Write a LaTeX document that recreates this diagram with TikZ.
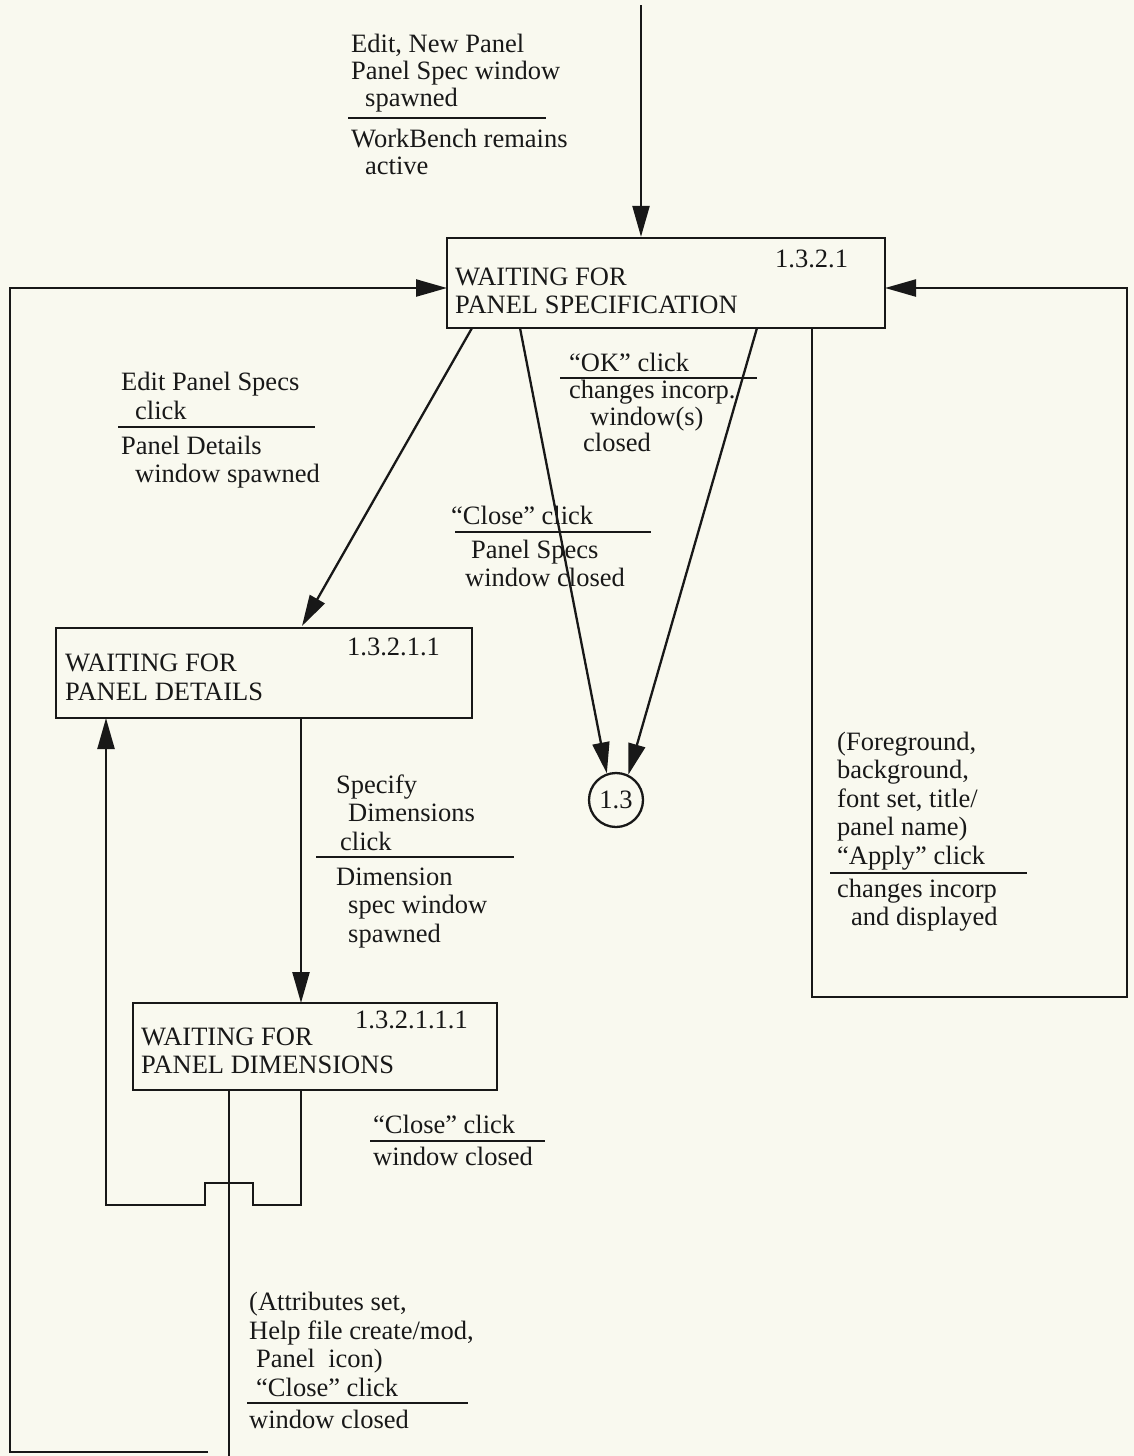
\documentclass[tikz,border=0pt]{standalone}
\usepackage{fontspec}
\setmainfont{Liberation Serif}
\usetikzlibrary{arrows.meta}
\definecolor{paper}{RGB}{249,249,239}
\definecolor{ink}{RGB}{24,24,24}
\begin{document}
\begin{tikzpicture}[x=1pt,y=-1pt,
  stbox/.style={draw=ink, line width=2.3pt, rectangle, inner sep=0pt},
  circ/.style={draw=ink, line width=2.3pt, circle, inner sep=0pt, minimum size=54pt, text=ink, font=\fontsize{26.5}{28}\selectfont},
  conn/.style={draw=ink, line width=2.3pt},
  arr/.style={conn, -{Triangle[length=31pt,width=17pt]}},
  txt/.style={inner sep=0pt, align=left, text=ink, font=\fontsize{26.5}{28.5}\selectfont},
  boxtxt/.style={inner sep=0pt, align=left, text=ink, font=\fontsize{26.5}{28}\selectfont},
  tight/.style={inner sep=0pt, align=left, text=ink, font=\fontsize{26.5}{24}\selectfont},
  toptxt/.style={inner sep=0pt, align=left, text=ink, font=\fontsize{26.5}{27}\selectfont}
]
\useasboundingbox (0,0) rectangle (1134,1456);
\fill[paper] (0,0) rectangle (1134,1456);

% ---------- states ----------
\node[stbox, minimum width=438pt, minimum height=90pt] (S1) at (666,283) {};
\node[boxtxt, anchor=base west] (S1a) at (455,285) {WAITING FOR};
\node[boxtxt, anchor=base west] (S1b) at (455,313) {PANEL SPECIFICATION};
\node[boxtxt, anchor=base west] (S1n) at (775,267) {1.3.2.1};

\node[stbox, minimum width=416pt, minimum height=90pt] (S2) at (264,673) {};
\node[boxtxt, anchor=base west] (S2a) at (65,671) {WAITING FOR};
\node[boxtxt, anchor=base west] (S2b) at (65,700) {PANEL DETAILS};
\node[boxtxt, anchor=base west] (S2n) at (347,655) {1.3.2.1.1};

\node[stbox, minimum width=364pt, minimum height=87pt] (S3) at (315,1046.5) {};
\node[boxtxt, anchor=base west] (S3a) at (141,1045) {WAITING FOR};
\node[boxtxt, anchor=base west] (S3b) at (141,1073) {PANEL DIMENSIONS};
\node[boxtxt, anchor=base west] (S3n) at (355,1028) {1.3.2.1.1.1};

\node[circ] (C) at (616,800) {1.3};

% ---------- connector coordinates ----------
\coordinate (top) at (641,5);
\coordinate (L0) at (208,1452);
\coordinate (L1) at (10,1452);
\coordinate (L2) at (10,288);
\coordinate (S1in) at (447,288);
\coordinate (R0) at (812,328);
\coordinate (R1) at (812,997);
\coordinate (R2) at (1127,997);
\coordinate (R3) at (1127,288);
\coordinate (S1out) at (885,288);
\coordinate (d0) at (472,328);
\coordinate (d1) at (302,626);
\coordinate (c0) at (520,328);
\coordinate (c1) at (757,328);
\coordinate (e0) at (301,718);
\coordinate (e1) at (301,1003);
\coordinate (b0) at (301,1090);
\coordinate (b1) at (301,1205);
\coordinate (b2) at (253,1205);
\coordinate (b3) at (253,1183);
\coordinate (b4) at (205,1183);
\coordinate (b5) at (205,1205);
\coordinate (b6) at (106,1205);
\coordinate (b7) at (106,718);
\coordinate (v0) at (229,1090);
\coordinate (v1) at (229,1456);

% ---------- connectors ----------
\draw[arr] (top) -- (top |- S1.north);
\draw[arr] (L0) -- (L1) -- (L2) -- (S1in);
\draw[arr] (R0) -- (R1) -- (R2) -- (R3) -- (S1out);
\draw[arr] (d0) -- (d1);
\draw[arr] (c0) -- (C.109);
\draw[arr] (c1) -- (C.64);
\draw[arr] (e0) -- (e1);
\draw[arr] (b0) -- (b1) -- (b2) -- (b3) -- (b4) -- (b5) -- (b6) -- (b7);
\draw[conn] (v0) -- (v1);

% ---------- labels ----------
% top
\node[toptxt, anchor=south west] (A1) at (351,115) {\strut Edit, New Panel\\\strut Panel Spec window\\\strut\hspace*{14pt}spawned};
\draw[conn] (348,118) -- (546,118);
\node[toptxt, anchor=north west] (A2) at (351,128) {\strut WorkBench remains\\\strut\hspace*{14pt}active};

% Edit Panel Specs
\node[txt, anchor=south west] (B1) at (121,428) {\strut Edit Panel Specs\\\strut\hspace*{14pt}click};
\draw[conn] (118,427) -- (315,427);
\node[txt, anchor=north west] (B2) at (121,434) {\strut Panel Details\\\strut\hspace*{14pt}window spawned};

% OK click
\node[txt, anchor=south west] (K1) at (569,380) {\strut “OK” click};
\draw[conn] (560,378) -- (757,378);
\node[tight, anchor=north west] (K2) at (569,380) {\strut changes incorp.\\\strut\hspace*{21pt}window(s)\\\strut\hspace*{14pt}closed};

% Close click (Panel Specs)
\node[txt, anchor=south west] (D1) at (451,533) {\strut “Close” click};
\draw[conn] (455,532) -- (651,532);
\node[txt, anchor=north west] (D2) at (465,538) {\strut\hspace*{6pt}Panel Specs\\\strut window closed};

% Specify Dimensions
\node[txt, anchor=south west] (E1) at (336,859) {\strut Specify\\\strut\hspace*{12pt}Dimensions\\\strut\hspace*{4pt}click};
\draw[conn] (316,857) -- (514,857);
\node[txt, anchor=north west] (E2) at (336,865) {\strut Dimension\\\strut\hspace*{12pt}spec window\\\strut\hspace*{12pt}spawned};

% Close click (window closed)
\node[txt, anchor=south west] (F1) at (373,1142) {\strut “Close” click};
\draw[conn] (370,1141) -- (545,1141);
\node[txt, anchor=north west] (F2) at (373,1145) {\strut window closed};

% Foreground ...
\node[txt, anchor=south west] (G1) at (837,873) {\strut (Foreground,\\\strut background,\\\strut font set, title/\\\strut panel name)\\\strut “Apply” click};
\draw[conn] (830,873) -- (1027,873);
\node[txt, anchor=north west] (G2) at (837,877) {\strut changes incorp\\\strut\hspace*{14pt}and displayed};

% Attributes ...
\node[txt, anchor=south west] (H1) at (249,1405) {\strut (Attributes set,\\\strut Help file create/mod,\\\strut\hspace*{7pt}Panel\ \ icon)\\\strut\hspace*{7pt}“Close” click};
\draw[conn] (247,1403) -- (468,1403);
\node[txt, anchor=north west] (H2) at (249,1408) {\strut window closed};
\end{tikzpicture}
\end{document}
